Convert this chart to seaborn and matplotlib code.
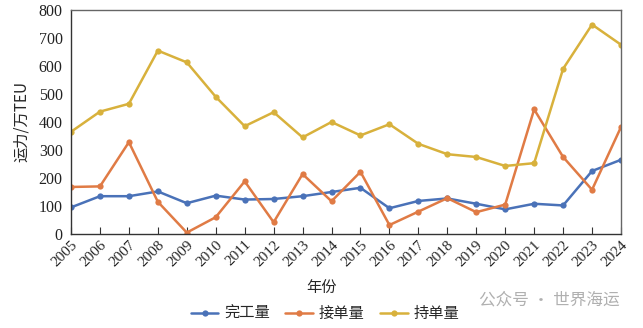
import matplotlib
matplotlib.use("Agg")
import matplotlib.pyplot as plt
import seaborn as sns
import pandas as pd

years = [str(y) for y in range(2005, 2025)]
completed = [95, 135, 135, 152, 110, 137, 123, 125, 135, 150, 165, 92, 118, 127, 108, 88, 108, 102, 225, 265]
ordered = [168, 170, 328, 115, 5, 60, 188, 42, 214, 117, 222, 32, 80, 128, 78, 105, 445, 275, 158, 382]
orderbook = [365, 437, 465, 655, 613, 490, 385, 435, 345, 400, 352, 392, 322, 285, 275, 243, 253, 590, 748, 676]
series_names = ["完工量", "接单量", "持单量"]
colors = ["#4A72B8", "#E07B45", "#D8B13C"]

df = pd.DataFrame({"年份": years * 3,
                   "值": completed + ordered + orderbook,
                   "系列": sum([[n] * len(years) for n in series_names], [])})

sns.set_theme(style="white")
plt.rcParams['font.family'] = ['Liberation Serif', 'Noto Sans CJK SC']

fig = plt.figure(figsize=(6.43, 3.28), dpi=100)
ax = fig.add_axes([71/643, 1 - 234/328, 550/643, 224/328])
sns.lineplot(data=df, x="年份", y="值", hue="系列", palette=colors, marker="o",
             markersize=4.5, markeredgewidth=0, linewidth=1.8, sort=False, ax=ax)

ax.set_xlim(0, 19)
ax.set_ylim(0, 800)
ax.set_yticks(range(0, 801, 100))
ax.tick_params(axis="y", length=0, labelsize=11.5, pad=6, colors="#222222")
ax.tick_params(axis="x", direction="in", length=5, width=0.8, color="#333333",
               labelsize=11, labelrotation=45, pad=3, bottom=True)
for lbl in ax.get_xticklabels():
    lbl.set_ha("right")
    lbl.set_rotation_mode("anchor")
for s in ax.spines.values():
    s.set_color("#666666")
    s.set_linewidth(1.0)
ax.spines["bottom"].set_color("#333333")
ax.spines["left"].set_color("#333333")

ax.set_xlabel("年份", fontsize=11, family=['Noto Sans CJK SC'])
ax.set_ylabel("运力/万TEU", fontsize=11, family=['Noto Sans CJK SC', 'Liberation Serif'], labelpad=6)
ax.xaxis.set_label_coords(0.455, -0.24)
ax.xaxis.label.set_va("center")

h, l = ax.get_legend_handles_labels()
ax.legend(h, l, loc="center", bbox_to_anchor=(0.462, -0.355), ncol=3, frameon=False,
          prop={'family': 'Noto Sans CJK SC', 'size': 11}, handlelength=1.8,
          columnspacing=1.0, handletextpad=0.4)

fig.text(0.855, 0.085, "公众号 · 世界海运", fontsize=12, color="#B0B0B0",
         family=['Noto Sans CJK SC'], ha="center", va="center")

fig.savefig("out.png", dpi=100)
